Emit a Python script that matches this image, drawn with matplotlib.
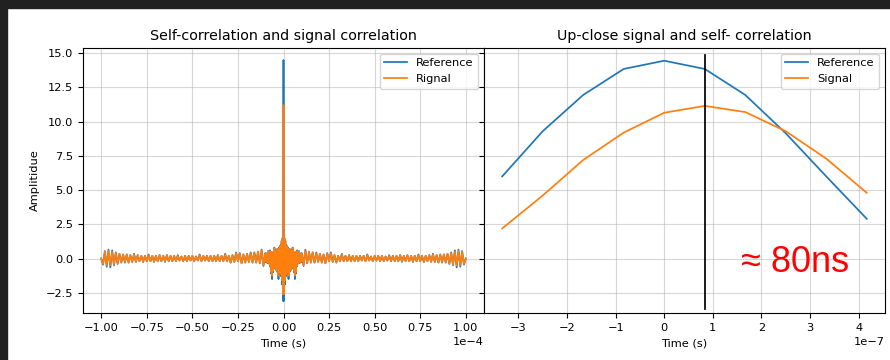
import numpy as np
import matplotlib
matplotlib.use("Agg")
import matplotlib.pyplot as plt
from matplotlib.patches import Rectangle

# --- full correlation (right half, mirrored for negative lags), units of 1e-4 s ---
# centre part sampled every 0.0025, quiet part every 0.01
ref_center = [14.5, -3.1, 1.5, -1.9, 1.3, -1.3, 1.0, -1.0, 0.9, -1.1,
              0.8, -1.5, 0.6, -1.0, 0.7, -0.9, 0.5, -0.8, 0.6, -0.7,
              0.8, -0.6, 0.5, -1.0, 0.4, -1.5, 0.3, -1.1, 0.5, -0.6,
              0.6, -0.4, 0.5, -0.35, 0.55, -0.3, 0.4, -0.3, 0.35, -0.25]
sig_center = [11.2, -2.6, 1.45, -1.6, 1.25, -1.2, 0.95, -0.95, 0.85, -1.0,
              0.75, -1.25, 0.55, -0.95, 0.65, -0.85, 0.45, -0.75, 0.55, -0.65,
              0.75, -0.55, 0.45, -0.9, 0.35, -1.25, 0.25, -1.0, 0.45, -0.55,
              0.55, -0.35, 0.45, -0.3, 0.5, -0.25, 0.35, -0.25, 0.3, -0.2]
ref_quiet = [0.4, -0.55, 0.65, -0.35, 0.5, -0.3, 0.45, -0.3, 0.45, -0.25,
             0.35, -0.3, 0.3, -0.35, 0.4, -0.2, 0.45, -0.25, 0.25, -0.3,
             0.2, -0.2, 0.35, -0.2, 0.2, -0.2, 0.25, -0.2, 0.2, -0.2,
             0.2, -0.2, 0.2, -0.15, 0.2, -0.2, 0.3, -0.15, 0.15, -0.2,
             0.2, -0.15, 0.2, -0.2, 0.2, -0.2, 0.15, -0.15, 0.25, -0.2,
             0.2, -0.2, 0.2, -0.2, 0.25, -0.25, 0.2, -0.2, 0.25, -0.2,
             0.2, -0.25, 0.2, -0.2, 0.3, -0.2, 0.2, -0.25, 0.2, -0.2,
             0.25, -0.25, 0.35, -0.25, 0.25, -0.3, 0.3, -0.3, 0.3, -0.3,
             0.35, -0.4, 0.45, -0.5, 0.6, -0.65, 0.65, -0.6, 0.55, -0.45,
             0.0]
sig_quiet = [0.35, -0.5, 0.6, -0.35, 0.5, -0.3, 0.45, -0.3, 0.4, -0.25,
             0.35, -0.3, 0.3, -0.35, 0.35, -0.2, 0.4, -0.25, 0.25, -0.3,
             0.2, -0.2, 0.3, -0.2, 0.2, -0.2, 0.25, -0.2, 0.2, -0.2,
             0.2, -0.2, 0.2, -0.15, 0.2, -0.2, 0.25, -0.15, 0.15, -0.2,
             0.2, -0.15, 0.2, -0.2, 0.2, -0.2, 0.15, -0.15, 0.2, -0.2,
             0.2, -0.2, 0.2, -0.2, 0.25, -0.2, 0.2, -0.2, 0.25, -0.2,
             0.2, -0.25, 0.2, -0.2, 0.25, -0.2, 0.2, -0.25, 0.2, -0.2,
             0.25, -0.25, 0.3, -0.25, 0.25, -0.3, 0.3, -0.25, 0.3, -0.3,
             0.35, -0.35, 0.4, -0.45, 0.5, -0.5, 0.55, -0.5, 0.5, -0.4,
             0.0]

# --- up-close samples, units of 1e-7 s ---
zoom_t = [-3.333, -2.5, -1.667, -0.833, 0.0, 0.833, 1.667, 2.5, 3.333, 4.167]
zoom_ref = [6.0, 9.3, 11.95, 13.85, 14.45, 13.85, 11.95, 9.15, 6.0, 2.9]
zoom_sig = [2.2, 4.6, 7.2, 9.2, 10.65, 11.15, 10.7, 9.3, 7.3, 4.8]
delay = 0.833e-7

t_half = np.concatenate([np.arange(len(ref_center)) * 0.0025,
                         0.10 + np.arange(len(ref_quiet)) * 0.01])
t_full = np.concatenate([-t_half[:0:-1], t_half]) * 1e-4
ref_half = np.array(ref_center + ref_quiet)
sig_half = np.array(sig_center + sig_quiet)
ref_full = np.concatenate([ref_half[:0:-1], ref_half])
sig_full = np.concatenate([sig_half[:0:-1], sig_half])

plt.rcParams['font.size'] = 8.2
plt.rcParams['axes.titlesize'] = 10.3
plt.rcParams['lines.linewidth'] = 1.25

fig, (ax1, ax2) = plt.subplots(1, 2, sharey=True, figsize=(8.9, 3.6), dpi=100)
fig.subplots_adjust(left=83/890, right=885/890, top=1-48/360, bottom=1-313/360, wspace=0)

ax1.plot(t_full, ref_full, label='Reference')
ax1.plot(t_full, sig_full, label='Rignal')
ax1.ticklabel_format(axis='x', style='sci', scilimits=(0, 0))
ax1.set_title('Self-correlation and signal correlation')
ax1.set_xlabel('Time (s)')
ax1.set_ylabel('Amplitidue')
ax1.grid(alpha=0.5)
ax1.legend(loc='upper right')

zt = np.array(zoom_t) * 1e-7
ax2.plot(zt, zoom_ref, label='Reference')
ax2.plot(zt, zoom_sig, label='Signal')
ax2.axvline(delay, ymin=0.015, ymax=0.974, color='k', linewidth=1.25)
ax2.text(1.57e-7, -0.95, '≈ 80ns', color='red', fontsize=26,
         family=['Liberation Sans', 'DejaVu Sans'])
ax2.set_title('Up-close signal and self- correlation')
ax2.set_xlabel('Time (s)')
ax2.grid(alpha=0.5)
ax2.legend(loc='upper right')

# dark screenshot border (top and left)
fig.add_artist(Rectangle((0, 1 - 8/360), 1, 8/360, transform=fig.transFigure,
                         color='#212121', zorder=10))
fig.add_artist(Rectangle((0, 0), 7/890, 1, transform=fig.transFigure,
                         color='#212121', zorder=10))

fig.savefig('out.png', dpi=100)
